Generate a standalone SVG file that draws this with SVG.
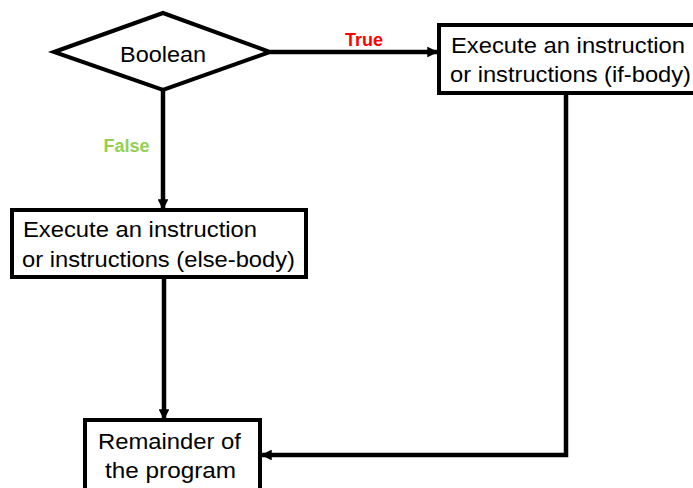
<svg xmlns="http://www.w3.org/2000/svg" width="693" height="488" viewBox="0 0 693 488">
<style>
.box{fill:#fff;stroke:#000;stroke-width:4}
.t{font-family:"Liberation Sans",Arial,sans-serif;font-size:22px;fill:#000}
.lbl{font-family:"Liberation Sans",Arial,sans-serif;font-size:18px;font-weight:bold}
.c{fill:none;stroke:#000;stroke-width:4.5}
</style>
<defs>
<marker id="ah" viewBox="0 0 10 10" refX="9" refY="5" markerWidth="2.6" markerHeight="2.4" orient="auto" markerUnits="strokeWidth">
<path d="M0,0 L10,5 L0,10 z" fill="#000"/>
</marker>
</defs>
<g id="connectors">
<path class="c" d="M270,52 H437" marker-end="url(#ah)"/>
<path class="c" d="M163,90 V209" marker-end="url(#ah)"/>
<path class="c" d="M164,278 V419" marker-end="url(#ah)"/>
<path class="c" d="M566,93 V455 H262" marker-end="url(#ah)"/>
<text class="lbl" x="364" y="46" text-anchor="middle" fill="#ff0000">True</text>
<text class="lbl" x="126.5" y="152" text-anchor="middle" fill="#92d050">False</text>
</g>
<g id="decision">
<polygon class="box" points="54,52 163,13 270,52 163,90"/>
<text class="t" x="120" y="62" textLength="86" lengthAdjust="spacingAndGlyphs">Boolean</text>
</g>
<g id="if-body">
<rect class="box" x="439" y="25" width="256" height="68"/>
<text class="t" x="451" y="53" textLength="234" lengthAdjust="spacingAndGlyphs">Execute an instruction</text>
<text class="t" x="450" y="82" textLength="241" lengthAdjust="spacingAndGlyphs">or instructions (if-body)</text>
</g>
<g id="else-body">
<rect class="box" x="12" y="210" width="294" height="67"/>
<text class="t" x="23" y="237" textLength="234" lengthAdjust="spacingAndGlyphs">Execute an instruction</text>
<text class="t" x="22" y="267" textLength="273" lengthAdjust="spacingAndGlyphs">or instructions (else-body)</text>
</g>
<g id="remainder">
<rect class="box" x="85" y="420" width="175" height="72"/>
<text class="t" x="98" y="449" textLength="143" lengthAdjust="spacingAndGlyphs">Remainder of</text>
<text class="t" x="105" y="478" textLength="131" lengthAdjust="spacingAndGlyphs">the program</text>
</g>
</svg>
